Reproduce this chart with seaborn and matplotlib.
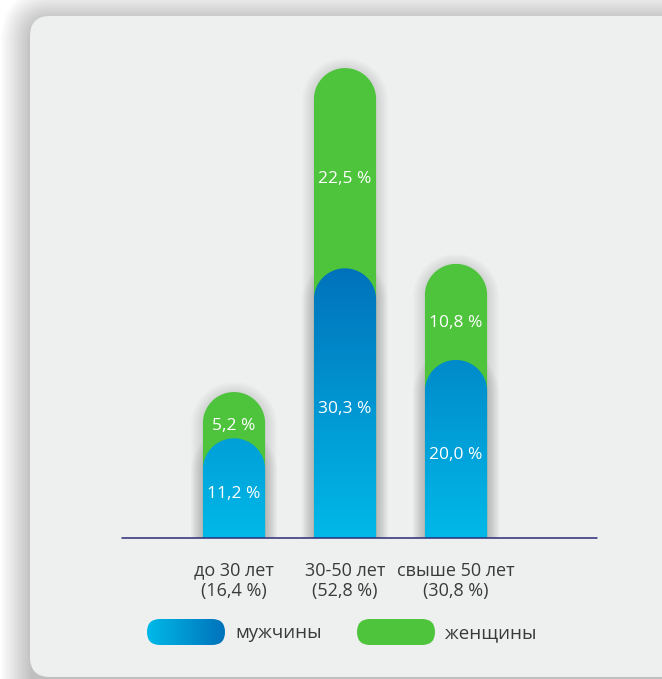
import numpy as np
import matplotlib
matplotlib.use("Agg")
import matplotlib.pyplot as plt
import seaborn as sns
from matplotlib.patches import FancyBboxPatch, PathPatch
from matplotlib.path import Path
from matplotlib.colors import LinearSegmentedColormap

# data
categories = ["до 30 лет", "30-50 лет", "свыше 50 лет"]
group_totals = [16.4, 52.8, 30.8]
men = [11.2, 30.3, 20.0]
women = [5.2, 22.5, 10.8]
series_names = ["мужчины", "женщины"]

BLUE_LOW = "#00b9e9"
BLUE_HIGH = "#0072bb"
GREEN = "#4ec33c"
CARD = "#eef0f0"
TEXT = "#3a3a3a"

sns.set_theme(style="white")
plt.rcParams["font.family"] = ["Open Sans", "DejaVu Sans"]

W, H = 662, 679
fig = plt.figure(figsize=(W / 100, H / 100), dpi=100)
fig.patch.set_facecolor("white")

# background axes in pixel coords: card + shadow + legend
bg = fig.add_axes([0, 0, 1, 1], zorder=0)
bg.set_xlim(0, W)
bg.set_ylim(H, 0)
bg.axis("off")
for i in range(16):
    grow = 1 + i * 2.0
    bg.add_patch(FancyBboxPatch((30 - grow + 2, 16 - grow + 5), 700 + 2 * grow, 700 + 2 * grow,
                                boxstyle="round,pad=0,rounding_size=%g" % (20 + grow),
                                fc="black", ec="none", alpha=0.016))
bg.add_patch(FancyBboxPatch((30, 16), 700, 661, boxstyle="round,pad=0,rounding_size=20",
                            fc=CARD, ec="none"))

blue_cmap = LinearSegmentedColormap.from_list("b", [BLUE_LOW, BLUE_HIGH])


# legend pills
def pill(x, y, w, h, color=None, grad=False):
    p = FancyBboxPatch((x, y), w, h, boxstyle="round,pad=0,rounding_size=%g" % (h / 2),
                       fc=color or "none", ec="none", zorder=3)
    bg.add_patch(p)
    if grad:
        im = bg.imshow(np.linspace(0, 1, 256)[None, :], cmap=blue_cmap, aspect="auto",
                       extent=(x, x + w, y + h, y), zorder=3)
        im.set_clip_path(p)
    return p


pill(147, 619, 78, 26, grad=True)
bg.text(235, 633, series_names[0], ha="left", va="center", fontsize=13.5, color=TEXT)
pill(357, 619, 78, 26, color=GREEN)
bg.text(445, 633, series_names[1], ha="left", va="center", fontsize=13.5, color=TEXT)
bg.set_xlim(0, W)
bg.set_ylim(H, 0)

# main chart axes
ax = fig.add_axes([122 / W, (H - 538) / H, 475 / W, 534 / H], zorder=1)
ax.patch.set_alpha(0)
sns.barplot(x=categories, y=group_totals, ax=ax, width=0.56, color=GREEN)
sns.barplot(x=categories, y=men, ax=ax, width=0.56, color=BLUE_LOW)
ax.set_xlim(-1.009, 3.27)
ax.set_ylim(0, 60)
sns.despine(ax=ax, left=True, bottom=True, top=True, right=True)
ax.set_yticks([])
ax.axhline(0, color="#2b2b77", lw=1.1, zorder=5, clip_on=False)

bars = list(ax.patches)
fig.canvas.draw()
px_per_x = ax.transData.transform((1, 0))[0] - ax.transData.transform((0, 0))[0]
px_per_y = ax.transData.transform((0, 1))[1] - ax.transData.transform((0, 0))[1]


def rounded_bar(x0, w, h):
    rx = w / 2
    ry = rx * px_per_x / px_per_y
    xc = x0 + rx
    t = np.linspace(np.pi, 0, 60)
    pts = [(x0, 0), (x0, h - ry)]
    pts += list(zip(xc + rx * np.cos(t), h - ry + ry * np.sin(t)))
    pts += [(x0 + w, 0), (x0, 0)]
    codes = [Path.MOVETO] + [Path.LINETO] * (len(pts) - 2) + [Path.CLOSEPOLY]
    return Path(pts, codes)


geo = [(b.get_x(), b.get_width(), b.get_height()) for b in bars]
for b in bars:
    b.remove()

n = len(categories)
shift = matplotlib.transforms.ScaledTranslation(0, -2 / 100, fig.dpi_scale_trans)
for i, (x0, w, h) in enumerate(geo):
    path = rounded_bar(x0, w, h)
    # soft shadow
    for k in range(6):
        sh = PathPatch(path, fc="none", ec="black", lw=2 + k * 3, alpha=0.018, zorder=2)
        sh.set_transform(ax.transData + shift)
        ax.add_patch(sh)
    if i < n:
        ax.add_patch(PathPatch(path, fc=GREEN, ec="none", zorder=3))
    else:
        patch = PathPatch(path, fc="none", ec="none", zorder=4)
        ax.add_patch(patch)
        im = ax.imshow(np.linspace(0, 1, 256)[:, None], cmap=blue_cmap, aspect="auto", origin="lower",
                       extent=(x0, x0 + w, 0, max(men)), zorder=4)
        im.set_clip_path(patch)

ax.set_xlim(-1.009, 3.27)
ax.set_ylim(0, 60)

for i in range(n):
    ax.text(i, men[i] / 2 - 0.7, f"{men[i]:.1f} %".replace(".", ","), ha="center", va="center",
            color="white", fontsize=12.5, zorder=6)
    ax.text(i, (men[i] + group_totals[i]) / 2 - 1.2, f"{women[i]:.1f} %".replace(".", ","),
            ha="center", va="center", color="white", fontsize=12.5, zorder=6)

ax.set_xticks(range(n))
ax.set_xticklabels([f"{c}\n({t:.1f} %)".replace(".", ",") for c, t in zip(categories, group_totals)],
                   fontsize=13, color=TEXT, linespacing=1.15)
ax.tick_params(axis="x", length=0, pad=17)
ax.set_xlabel("")
ax.set_ylabel("")

fig.savefig("out.png", dpi=100)
